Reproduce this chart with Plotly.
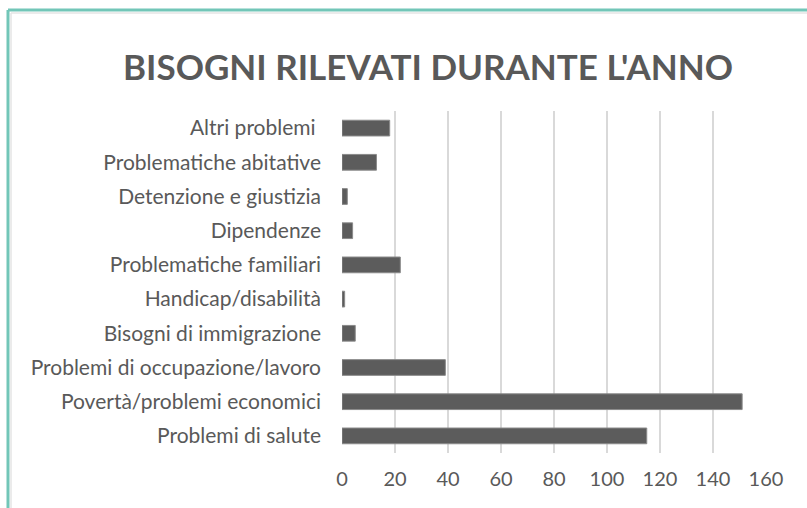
import plotly.graph_objects as go

categories = [
    "Problemi di salute",
    "Povertà/problemi economici",
    "Problemi di occupazione/lavoro",
    "Bisogni di immigrazione",
    "Handicap/disabilità",
    "Problematiche familiari",
    "Dipendenze",
    "Detenzione e giustizia",
    "Problematiche abitative",
    "Altri problemi ",
]
values = [115, 151, 39, 5, 1, 22, 4, 2, 13, 18]
x_ticks = [0, 20, 40, 60, 80, 100, 120, 140, 160]

grey_text = "#595959"

fig = go.Figure(go.Bar(
    x=values,
    y=categories,
    orientation="h",
    marker=dict(color="#5c5c5c", line=dict(color="#8a8a8a", width=1)),
    width=0.46,
    hoverinfo="x+y",
))

# frame lines (teal border at top and left, like the cropped slide)
left_x = (8 - 342) / 424
top_y = (453 - 10) / 342
bottom_y = (453 - 510) / 342
right_x = (810 - 342) / 424
fig.add_shape(type="line", xref="paper", yref="paper", x0=left_x, x1=right_x,
              y0=top_y, y1=top_y, line=dict(color="#72C6B8", width=3))
fig.add_shape(type="line", xref="paper", yref="paper", x0=left_x, x1=left_x,
              y0=bottom_y, y1=top_y, line=dict(color="#72C6B8", width=3))
fig.add_shape(type="line", xref="paper", yref="paper", x0=left_x + 3 / 424, x1=right_x,
              y0=top_y - 3 / 342, y1=top_y - 3 / 342, line=dict(color="#e4e4e4", width=1.5))
fig.add_shape(type="line", xref="paper", yref="paper", x0=left_x + 3 / 424, x1=left_x + 3 / 424,
              y0=bottom_y, y1=top_y - 3 / 342, line=dict(color="#e4e4e4", width=1.5))

fig.update_layout(
    width=807,
    height=508,
    title=dict(
        text="<b>BISOGNI RILEVATI DURANTE L'ANNO</b>",
        x=428 / 807,
        xanchor="center",
        y=1 - 68 / 508,
        yanchor="middle",
        font=dict(size=35, color=grey_text, family="Lato"),
    ),
    xaxis=dict(
        range=[0, 160],
        tickvals=x_ticks,
        showgrid=True,
        gridcolor="#d9d9d9",
        gridwidth=1.5,
        zeroline=False,
        showline=False,
        tickfont=dict(size=20, color=grey_text, family="Lato"),
        ticklabelstandoff=12,
        fixedrange=True,
    ),
    yaxis=dict(
        showgrid=False,
        zeroline=False,
        showline=False,
        tickfont=dict(size=21, color=grey_text, family="Lato"),
        ticklabelstandoff=20,
        fixedrange=True,
    ),
    plot_bgcolor="white",
    paper_bgcolor="white",
    margin=dict(l=342, r=41, t=111, b=55),
    showlegend=False,
)

fig.write_html("out.html", config={"displayModeBar": False},
               post_script="document.body.style.margin='0';")
